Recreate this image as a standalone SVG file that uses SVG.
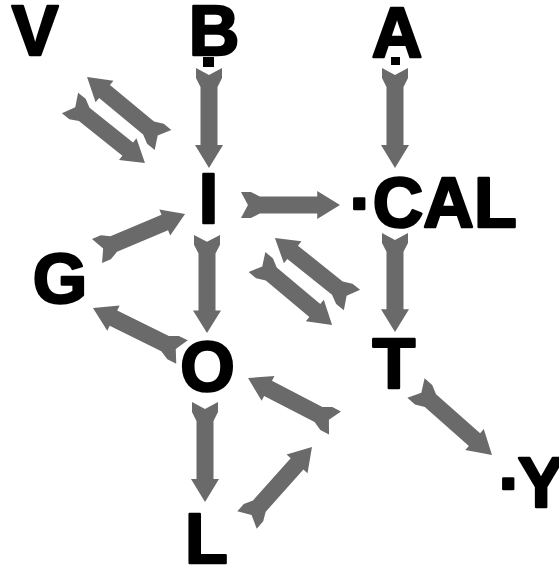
<svg xmlns="http://www.w3.org/2000/svg" xmlns:xlink="http://www.w3.org/1999/xlink" width="559" height="565" viewBox="0 0 559 565">
  <style>
    .lbl { font-family: "Liberation Sans", Arial, sans-serif; font-weight: bold; font-size: 70px; fill: #000; stroke: #000; stroke-width: 2.5; stroke-linejoin: round; }
    .arw { fill: #6a6a6a; }
    .dot { fill: #000; }
  </style>
  <defs>
    <path id="arrow" d="M0,-13 L10,-13 L19,-8.5 L77,-8.5 L77,-14 L100,0 L77,14 L77,8.5 L19,8.5 L10,13 L0,13 L7,0 Z"/>
  </defs>
  <rect width="559" height="565" fill="#fff"/>

  <g id="connectors" class="arw">
    <use xlink:href="#arrow" transform="translate(209,68) rotate(90) scale(1,1)"/>
    <use xlink:href="#arrow" transform="translate(395,68) rotate(90) scale(1,1)"/>
    <use xlink:href="#arrow" transform="translate(241,205) rotate(0) scale(0.99,1)"/>
    <use xlink:href="#arrow" transform="translate(395,233) rotate(90) scale(0.99,1)"/>
    <use xlink:href="#arrow" transform="translate(207,235) rotate(90) scale(0.98,1)"/>
    <use xlink:href="#arrow" transform="translate(205,402) rotate(90) scale(1,1)"/>
    <use xlink:href="#arrow" transform="translate(163,140) rotate(-140.3) scale(0.987,1)"/>
    <use xlink:href="#arrow" transform="translate(70,103) rotate(38.66) scale(0.96,1)"/>
    <use xlink:href="#arrow" transform="translate(97,251) rotate(-22.8) scale(0.955,1)"/>
    <use xlink:href="#arrow" transform="translate(182,352) rotate(206.3) scale(0.993,1)"/>
    <use xlink:href="#arrow" transform="translate(352,300) rotate(218.8) scale(0.989,1)"/>
    <use xlink:href="#arrow" transform="translate(257,262) rotate(40) scale(0.98,1)"/>
    <use xlink:href="#arrow" transform="translate(416,388) rotate(41.4) scale(1.013,1)"/>
    <use xlink:href="#arrow" transform="translate(335,423) rotate(207.35) scale(0.979,1)"/>
    <use xlink:href="#arrow" transform="translate(247,520) rotate(-48.3) scale(0.977,1)"/>
  </g>

  <g id="node-V"><text class="lbl" x="35" y="55" text-anchor="middle">V</text></g>
  <g id="node-B">
    <text class="lbl" x="214" y="55" text-anchor="middle">B</text>
    <rect class="dot" x="203" y="57" width="11" height="10"/>
  </g>
  <g id="node-A">
    <text class="lbl" x="397" y="57" text-anchor="middle">A</text>
    <rect class="dot" x="391" y="57" width="9" height="8"/>
  </g>
  <g id="node-I"><text class="lbl" x="208.5" y="223" text-anchor="middle">I</text></g>
  <g id="node-CAL"><text class="lbl" x="349.5" y="227">·CAL</text></g>
  <g id="node-G"><text class="lbl" x="60" y="303" text-anchor="middle">G</text></g>
  <g id="node-O"><text class="lbl" x="207.5" y="391" text-anchor="middle">O</text></g>
  <g id="node-T"><text class="lbl" x="394" y="388" text-anchor="middle">T</text></g>
  <g id="node-Y"><text class="lbl" x="498.5" y="507">·<tspan dx="-4">Y</tspan></text></g>
  <g id="node-L"><text class="lbl" x="185" y="563">L</text></g>
</svg>
